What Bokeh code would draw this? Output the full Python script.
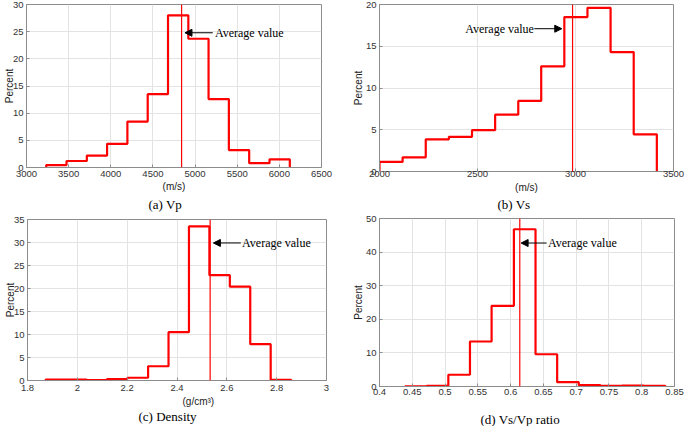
from bokeh.plotting import figure
from bokeh.layouts import column, row
from bokeh.models import Range1d, FixedTicker, Span, Arrow, NormalHead, Label, Title
from bokeh.embed import file_html
from bokeh.resources import INLINE

# ---------------- data ----------------
vp_edges = [3234, 3475, 3716, 3956, 4197, 4438, 4679, 4920, 5160, 5401, 5642, 5883, 6124]
vp_pct = [0.45, 1.2, 2.2, 4.35, 8.45, 13.5, 28.0, 23.7, 12.6, 3.2, 0.8, 1.5]
vp_mean = 4840

vs_edges = [2000, 2118, 2236, 2354, 2472, 2590, 2708, 2825, 2943, 3061, 3179, 3297, 3415]
vs_pct = [1.15, 1.7, 3.85, 4.15, 4.95, 6.8, 8.45, 12.6, 18.5, 19.6, 14.3, 4.45]
vs_mean = 2985

rho_edges = [1.873, 1.955, 2.037, 2.119, 2.201, 2.284, 2.366, 2.448, 2.530, 2.612, 2.694, 2.776, 2.858]
rho_pct = [0.2, 0.2, 0.1, 0.3, 0.6, 3.1, 10.5, 33.5, 22.9, 20.4, 7.9, 0.15]
rho_mean = 2.533

ratio_edges = [0.439, 0.472, 0.505, 0.538, 0.571, 0.605, 0.638, 0.671, 0.704, 0.737, 0.770, 0.803, 0.836]
ratio_pct = [0.05, 0.2, 3.5, 13.4, 24.0, 46.8, 9.6, 1.3, 0.4, 0.2, 0.3, 0.2]
ratio_mean = 0.614

vp_xticks = [3000, 3500, 4000, 4500, 5000, 5500, 6000, 6500]
vp_yticks = [0, 5, 10, 15, 20, 25, 30]
vs_xticks = [2000, 2500, 3000, 3500]
vs_yticks = [0, 5, 10, 15, 20]
rho_xticks = [1.8, 2.0, 2.2, 2.4, 2.6, 2.8, 3.0]
rho_yticks = [0, 5, 10, 15, 20, 25, 30, 35]
ratio_xticks = [0.4, 0.45, 0.5, 0.55, 0.6, 0.65, 0.7, 0.75, 0.8, 0.85]
ratio_yticks = [0, 10, 20, 30, 40, 50]

# annotation anchors: (arrow start x, arrow end x, y, text x, text align)
vp_note = (5210, 4880, 24.8, 5235, "left")
vs_note = (2790, 2930, 17.1, 2788, "right")
rho_note = (2.656, 2.546, 29.9, 2.661, "left")
ratio_note = (0.655, 0.616, 42.7, 0.657, "left")

SANS = "Liberation Sans"
SERIF = "Liberation Serif"
GRAY = "#8c8c8c"


def step_xy(edges, pct):
    xs, ys = [edges[0]], [0]
    for i, h in enumerate(pct):
        xs += [edges[i], edges[i + 1]]
        ys += [h, h]
    xs.append(edges[-1])
    ys.append(0)
    return xs, ys


def label_map(ticks):
    return {t: f"{t:g}" for t in ticks}


def below_title(p, text, font, size, color, offset, standoff):
    p.add_layout(Title(text=text, align="left", offset=offset, text_font=font,
                       text_font_size=size, text_font_style="normal", text_color=color,
                       standoff=standoff), "below")


def panel(edges, pct, mean, xticks, yticks, note, width, height, borders,
          y_label_standoff, x_standoff):
    left, right, top, bottom = borders
    p = figure(width=width, height=height, output_backend="svg", toolbar_location=None,
               x_range=Range1d(xticks[0], xticks[-1]), y_range=Range1d(yticks[0], yticks[-1]),
               min_border_left=left, min_border_right=right,
               min_border_top=top, min_border_bottom=bottom)
    p.outline_line_color = GRAY
    p.outline_line_width = 1
    p.background_fill_color = "white"
    p.border_fill_color = "white"

    p.xaxis.ticker = FixedTicker(ticks=xticks)
    p.yaxis.ticker = FixedTicker(ticks=yticks)
    p.xaxis.major_label_overrides = label_map(xticks)
    p.yaxis.major_label_overrides = label_map(yticks)
    for ax in (p.xaxis[0], p.yaxis[0]):
        ax.axis_line_color = GRAY
        ax.major_tick_line_color = GRAY
        ax.major_tick_in = 3
        ax.major_tick_out = 0
        ax.minor_tick_line_color = None
        ax.major_label_text_font = SANS
        ax.major_label_text_font_size = "9.5px"
        ax.major_label_text_color = "#333333"
        ax.axis_label_text_font = SANS
        ax.axis_label_text_font_size = "10px"
        ax.axis_label_text_font_style = "normal"
        ax.axis_label_text_color = "#222222"
    p.yaxis.axis_label = "Percent"
    p.yaxis.major_label_standoff = 3
    p.yaxis.axis_label_standoff = y_label_standoff
    p.xaxis.major_label_standoff = x_standoff

    p.xgrid.grid_line_color = "#e3e3e3"
    p.ygrid.grid_line_color = "#e3e3e3"

    xs, ys = step_xy(edges, pct)
    p.line(xs, ys, line_color="#ff0000", line_width=2.2)

    p.add_layout(Span(location=mean, dimension="height", line_color="#ff0000", line_width=1.2))

    xs0, xe, yy, tx, align = note
    p.add_layout(Arrow(end=NormalHead(size=7, fill_color="black", line_color="black"),
                       x_start=xs0, y_start=yy, x_end=xe, y_end=yy,
                       line_color="black", line_width=1))
    p.add_layout(Label(x=tx, y=yy, text="Average value", text_font=SERIF,
                       text_font_size="12px", text_align=align, text_baseline="middle",
                       text_color="black"))
    return p


# (a) Vp
pa = panel(vp_edges, vp_pct, vp_mean, vp_xticks, vp_yticks, vp_note,
           340, 212, (26, 19, 4, 45), -5, 3)
pa.xaxis.axis_label = "(m/s)"
pa.xaxis.axis_label_standoff = 1
below_title(pa, "(a) Vp", SERIF, "13px", "black", 122, 0)

# (b) Vs
pb = panel(vs_edges, vs_pct, vs_mean, vs_xticks, vs_yticks, vs_note,
           345, 212, (39, 12, 4, 41), -1, -1)
pb.xaxis.axis_label = "(m/s)"
pb.xaxis.axis_label_standoff = 2
below_title(pb, "(b) Vs", SERIF, "13px", "black", 118, -2)

# (c) Density
pc = panel(rho_edges, rho_pct, rho_mean, rho_xticks, rho_yticks, rho_note,
           340, 214, (27, 14, 7, 46), -5, 4)
below_title(pc, "(g/cm\u00b3)", SANS, "10px", "#222222", 155, 0)
below_title(pc, "(c) Density", SERIF, "13px", "black", 111, 0)

# (d) Vs/Vp ratio (blank spacer line where the other panels have a unit label)
pd = panel(ratio_edges, ratio_pct, ratio_mean, ratio_xticks, ratio_yticks, ratio_note,
           345, 214, (39, 11, 6, 40), -1, 2)
below_title(pd, " ", SANS, "10px", "#222222", 0, 3)
below_title(pd, "(d) Vs/Vp ratio", SERIF, "13px", "black", 101, -8)

layout = column(row(column(pa), column(pb)), row(column(pc), column(pd)))

open("out.html", "w").write(file_html(layout, INLINE))
